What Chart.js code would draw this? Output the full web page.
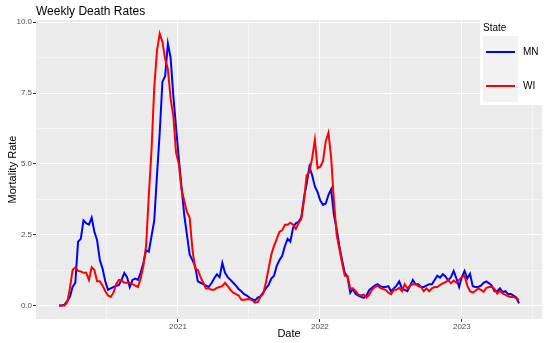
<!DOCTYPE html>
<html>
<head>
<meta charset="utf-8">
<script src="https://cdn.jsdelivr.net/npm/chart.js@4"></script>
<style>
  body { margin: 0; background: #fff; }
  canvas { display: block; }
</style>
</head>
<body>
<canvas id="deathChart" width="550" height="343"></canvas>
<script>
// weekly series, first week starting 2020-03-01
const firstWeek = "2020-03-01";

const mnRate = [
  0, 0, 0.02, 0.15, 0.3, 0.65, 0.8, 2.25, 2.35, 3.0,
  2.9, 2.85, 3.1, 2.6, 2.3, 1.6, 1.3, 0.85, 0.55, 0.6,
  0.65, 0.68, 0.72, 0.9, 1.15, 1.0, 0.65, 0.9, 0.95, 0.9,
  1.15, 1.5, 1.95, 1.9, 2.45, 3.0, 4.6, 6.1, 7.9, 8.1,
  9.25, 8.75, 7.4, 6.3, 5.2, 4.2, 3.2, 2.5, 1.8, 1.6,
  1.4, 0.85, 0.8, 0.75, 0.7, 0.65, 0.78, 0.95, 1.1, 1.0,
  1.5, 1.15, 1.0, 0.9, 0.8, 0.7, 0.58, 0.5, 0.4, 0.35,
  0.27, 0.22, 0.17, 0.28, 0.32, 0.45, 0.6, 0.72, 0.95, 1.05,
  1.4, 1.6, 1.75, 2.1, 2.35, 2.25, 2.75, 2.9, 2.95, 3.1,
  3.8, 4.3, 4.9, 4.6, 4.2, 4.0, 3.7, 3.55, 3.6, 3.9,
  4.1, 3.2, 2.7, 2.1, 1.6, 1.15, 1.0, 0.45, 0.58, 0.4,
  0.35, 0.3, 0.27, 0.35, 0.55, 0.62, 0.7, 0.75, 0.68, 0.65,
  0.65, 0.68, 0.5, 0.6, 0.7, 0.85, 0.6, 0.55, 0.5, 0.7,
  0.9, 0.75, 0.75, 0.65, 0.65, 0.7, 0.75, 0.75, 0.9, 1.05,
  0.98, 1.1, 1.02, 0.88, 1.0, 1.22, 0.95, 0.65, 1.0, 1.22,
  0.95, 1.12, 0.68, 0.65, 0.65, 0.7, 0.8, 0.85, 0.78, 0.7,
  0.5, 0.5, 0.6, 0.47, 0.5, 0.4, 0.4, 0.35, 0.28, 0.07
];

const wiRate = [
  0, 0, 0, 0.1, 0.6, 1.25, 1.35, 1.22, 1.2, 1.15,
  1.15, 0.9, 1.35, 1.25, 0.85, 0.85, 0.7, 0.5, 0.35, 0.3,
  0.45, 0.75, 0.9, 0.88, 0.8, 0.8, 0.8, 0.75, 0.7, 0.65,
  0.95, 1.4, 2.1, 3.9, 5.5, 7.7, 9.0, 9.6, 9.3, 8.7,
  8.35, 7.3, 6.7, 5.4, 5.0, 4.1, 3.7, 3.3, 3.1, 2.0,
  1.3, 1.25, 1.0, 0.8, 0.6, 0.6, 0.55, 0.55, 0.62, 0.65,
  0.68, 0.8, 0.68, 0.55, 0.45, 0.4, 0.35, 0.2, 0.2, 0.22,
  0.22, 0.18, 0.1, 0.12, 0.3, 0.4, 0.8, 1.3, 1.8, 2.1,
  2.35, 2.6, 2.65, 2.85, 2.85, 2.92, 2.85, 2.7, 2.9, 3.05,
  3.7, 4.6, 4.7, 5.2, 5.85, 4.85, 4.9, 5.1, 5.8, 6.1,
  5.2, 3.7, 2.5, 2.0, 1.5, 1.05, 1.05, 0.6, 0.6, 0.5,
  0.38, 0.35, 0.38, 0.28, 0.38, 0.55, 0.65, 0.7, 0.62, 0.58,
  0.55, 0.45, 0.4, 0.55, 0.55, 0.62, 0.5, 0.75, 0.6, 0.7,
  0.75, 0.75, 0.68, 0.65, 0.5, 0.6, 0.5, 0.6, 0.65, 0.65,
  0.72, 0.78, 0.82, 0.9, 0.78, 0.88, 0.8, 0.9, 1.0, 1.05,
  0.7, 0.5, 0.45, 0.52, 0.6, 0.55, 0.48, 0.62, 0.65, 0.65,
  0.58, 0.42, 0.52, 0.42, 0.37, 0.32, 0.3, 0.3, 0.25, 0.2
];

const xMajorDates = ["2021-01-01", "2022-01-01", "2023-01-01"];
const xTickLabels = ["2021", "2022", "2023"];
const xMinorDates = ["2020-07-02", "2021-07-02", "2022-07-02", "2023-07-02"];

const yMajor = [0, 2.5, 5, 7.5, 10];
const yTickLabels = ["0.0", "2.5", "5.0", "7.5", "10.0"];
const yMinor = [1.25, 3.75, 6.25, 8.75];

const states = ["MN", "WI"];
const stateColors = ["#0000FF", "#FF0000"];

const DAY = 86400000;
const origin = Date.UTC(2020, 0, 1);
const dayNum = (s) => (Date.parse(s + "T00:00:00Z") - origin) / DAY;

const startDay = dayNum(firstWeek);
const weekDays = mnRate.map((_, i) => startDay + i * 7);

const toPoints = (vals) => vals.map((v, i) => ({ x: weekDays[i], y: v }));

// ggplot style 5% expansion
const xLo = weekDays[0], xHi = weekDays[weekDays.length - 1];
const xPad = (xHi - xLo) * 0.05;
const yMax = Math.max(...mnRate, ...wiRate);
const yPad = yMax * 0.05;

const xMajor = xMajorDates.map(dayNum);
const xMinor = xMinorDates.map(dayNum);

const FONT = "'Liberation Sans', Arial, sans-serif";

const panelBg = {
    id: "panelBg",
    beforeDraw(chart) {
        const { ctx, chartArea: a } = chart;
        ctx.save();
        ctx.fillStyle = "#EBEBEB";
        ctx.fillRect(a.left, a.top, a.right - a.left, a.bottom - a.top);
        ctx.restore();
    },
};

const titleAndLegend = {
    id: "titleAndLegend",
    afterDraw(chart) {
        const ctx = chart.ctx;
        ctx.save();
        ctx.fillStyle = "#000";
        ctx.font = "12px " + FONT;
        ctx.textBaseline = "alphabetic";
        ctx.textAlign = "left";
        ctx.fillText("Weekly Death Rates", 36, 15);

        // legend box
        ctx.fillStyle = "#FFFFFF";
        ctx.fillRect(480, 14, 70, 91);
        ctx.fillStyle = "#000";
        ctx.font = "10px " + FONT;
        ctx.fillText("State", 483, 31);
        ctx.fillStyle = "#F2F2F2";
        ctx.fillRect(483, 36, 35, 66);

        const rows = [52, 86];
        states.forEach((s, i) => {
            ctx.strokeStyle = stateColors[i];
            ctx.lineWidth = 2;
            ctx.beginPath();
            ctx.moveTo(486, rows[i]);
            ctx.lineTo(515, rows[i]);
            ctx.stroke();
            ctx.fillStyle = "#000";
            ctx.textBaseline = "middle";
            ctx.fillText(s, 523, rows[i] + 0.5);
        });
        ctx.restore();
    },
};

new Chart(document.getElementById("deathChart"), {
    type: "line",
    data: {
        datasets: [
            {
                label: states[0],
                data: toPoints(mnRate),
                borderColor: stateColors[0],
                borderWidth: 2,
                pointRadius: 0,
                tension: 0,
                order: 1,
            },
            {
                label: states[1],
                data: toPoints(wiRate),
                borderColor: stateColors[1],
                borderWidth: 2,
                pointRadius: 0,
                tension: 0,
                order: 0,
            },
        ],
    },
    options: {
        responsive: false,
        animation: false,
        events: [],
        layout: { padding: { top: 20, right: 8, left: 0, bottom: 0 } },
        plugins: {
            legend: { display: false },
            tooltip: { enabled: false },
        },
        scales: {
            x: {
                type: "linear",
                min: xLo - xPad,
                max: xHi + xPad,
                afterBuildTicks: (scale) => {
                    scale.ticks = [...xMajor, ...xMinor]
                        .sort((a, b) => a - b)
                        .map((v) => ({ value: v }));
                },
                afterFit: (scale) => { scale.height = 24; },
                ticks: {
                    autoSkip: false,
                    maxRotation: 0,
                    padding: 0,
                    color: "#4D4D4D",
                    font: { family: FONT, size: 8 },
                    callback: (v) => {
                        const k = xMajor.indexOf(v);
                        return k >= 0 ? xTickLabels[k] : "";
                    },
                },
                grid: {
                    color: "#FFFFFF",
                    lineWidth: (c) => (c.tick && xMinor.includes(c.tick.value) ? 0.5 : 1),
                    tickLength: 3,
                    tickColor: (c) => (c.tick && xMinor.includes(c.tick.value) ? "rgba(0,0,0,0)" : "#333333"),
                    tickWidth: 1,
                },
                border: { display: false },
                title: {
                    display: true,
                    text: "Date",
                    color: "#000",
                    font: { family: FONT, size: 11 },
                    padding: { top: 0, bottom: 2 },
                },
            },
            y: {
                min: -yPad,
                max: yMax + yPad,
                afterBuildTicks: (scale) => {
                    scale.ticks = [...yMajor, ...yMinor]
                        .sort((a, b) => a - b)
                        .map((v) => ({ value: v }));
                },
                afterFit: (scale) => { scale.width = 36; },
                ticks: {
                    padding: 1,
                    color: "#4D4D4D",
                    font: { family: FONT, size: 8 },
                    callback: (v) => {
                        const k = yMajor.indexOf(v);
                        return k >= 0 ? yTickLabels[k] : "";
                    },
                },
                grid: {
                    color: "#FFFFFF",
                    lineWidth: (c) => (c.tick && yMinor.includes(c.tick.value) ? 0.5 : 1),
                    tickLength: 3,
                    tickColor: (c) => (c.tick && yMinor.includes(c.tick.value) ? "rgba(0,0,0,0)" : "#333333"),
                    tickWidth: 1,
                },
                border: { display: false },
                title: {
                    display: true,
                    text: "Mortality Rate",
                    color: "#000",
                    font: { family: FONT, size: 11 },
                    padding: { top: 6, bottom: 0 },
                },
            },
        },
    },
    plugins: [panelBg, titleAndLegend],
});
</script>
</body>
</html>
